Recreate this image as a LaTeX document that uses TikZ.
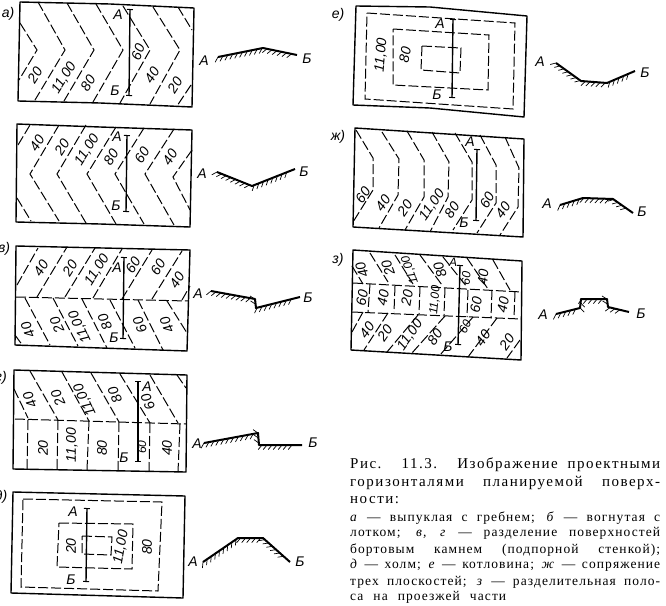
\documentclass[tikz,border=0pt]{standalone}
\usepackage{fontspec}
\setmainfont{Liberation Serif}
\setsansfont{Liberation Sans}
\usetikzlibrary{arrows.meta,decorations.pathreplacing}
\newcommand{\Cote}[4]{\node[cote,rotate=#3] (cote#1-#2) at (#1,#2) {#4}}
\newcommand{\Lettre}[3]{\node[lettre] (lettre#1-#2) at (#1,#2) {#3}}
\newcommand{\Ligne}[3]{\node[#1,anchor=west] (ligne#2) at (350,#2) {\makebox[310pt][s]{#3}}}
\newcommand{\Petit}[1]{{\fontsize{12}{12}\selectfont #1}}
\tikzset{
	cadre/.style={line width=1.4pt,line join=round},
	horiz/.style={line width=1pt,dash pattern=on 10pt off 3pt},
	coupe/.style={line width=1.4pt,{Bar[width=6pt,line width=1pt]}-{Bar[width=6pt,line width=1pt]}},
	cote/.style={font=\sffamily\itshape\fontsize{14}{14}\selectfont,inner sep=0pt},
	lettre/.style={font=\sffamily\itshape\fontsize{14}{14}\selectfont,inner sep=0pt},
	profil/.style={line width=2pt,line join=round,
		postaction={draw,line width=0.7pt,decorate,
			decoration={border,segment length=5pt,amplitude=6pt,angle=-130}}},
	titre/.style={font=\addfontfeature{LetterSpace=10}\fontsize{15}{17}\selectfont,inner sep=0pt},
	legende/.style={font=\addfontfeature{LetterSpace=8}\fontsize{13.5}{15}\selectfont,inner sep=0pt},
}
\begin{document}
\begin{tikzpicture}[x=1pt,y=-1pt]
	\useasboundingbox (0,0) rectangle (666,605);
	
	%Figure a
	\draw[cadre] (20,2) -- (110,4) -- (194,8) -- (192,107) -- (100,103) -- (18,101) -- cycle;
	\draw[horiz] (20,23) -- (37,50) -- (19,80);
	\foreach \x/\yt/\yb in {65/2/100,94/3/101,123/4/102,150/6/103,180/7/104}{
		\draw[horiz] (\x-27,\yt) -- (\x,50) -- (\x-30,\yb);
	}
	\draw[horiz] (178,7) -- (192,30);
	\draw[horiz] (191,85) -- (177,106);
	\draw[coupe] (130,9) -- (129,96);
	\Cote{35}{75}{58}{20};
	\Cote{64}{78}{58}{11,00};
	\Cote{88}{83}{58}{80};
	\Cote{138}{52}{68}{60};
	\Cote{152}{75}{58}{40};
	\Cote{175}{85}{58}{20};
	\Lettre{118}{15}{А};
	\Lettre{115}{91}{Б};
	\Lettre{8}{14}{а)};
	\Lettre{204}{61}{А};
	\Lettre{307}{59}{Б};
	\draw[profil] (218,57) -- (263,48) -- (297,55);
	
	%Figure b
	\draw[cadre] (17,124) -- (100,127) -- (192,130) -- (190,227) -- (100,224) -- (16,222) -- cycle;
	\draw[horiz] (18,145) -- (30,125);
	\draw[horiz] (17,198) -- (31,221);
	\foreach \x/\yt/\yb in {30/125/221,57/125/223,87/127/224,115/128/224,145/129/225}{
		\draw[horiz] (\x+29,\yt) -- (\x,174) -- (\x+29,\yb);
	}
	\draw[horiz] (192,150) -- (173,177) -- (190,210);
	\draw[coupe] (127,135) -- (126,212);
	\Cote{37}{143}{58}{40};
	\Cote{62}{147}{58}{20};
	\Cote{87}{150}{58}{11,00};
	\Cote{111}{157}{58}{80};
	\Cote{142}{155}{58}{60};
	\Cote{170}{157}{58}{40};
	\Lettre{117}{137}{А};
	\Lettre{116}{206}{Б};
	\Lettre{202}{174}{А};
	\Lettre{304}{172}{Б};
	\draw[profil] (217,172) -- (252,186) -- (295,169);
	
	%Figure v
	\draw[cadre] (16,246) -- (190,250) -- (187,351) -- (15,345) -- cycle;
	\draw[horiz] (16,297) -- (188,301);
	\foreach \xa/\ya/\xb/\yb in {17/285/38/248,37/297/67/247,65/297/95/248,93/298/122/249,122/299/152/250,152/299/182/251,182/300/190/286}{
		\draw[horiz] (\xa,\ya) -- (\xb,\yb);
	}
	\foreach \xa/\ya/\xb/\yb in {15/335/23/346,25/298/50/345,53/298/78/346,82/299/107/348,110/300/135/348,138/300/163/350,167/301/187/333}{
		\draw[horiz] (\xa,\ya) -- (\xb,\yb);
	}
	\draw[coupe] (124,257) -- (123,339);
	\Cote{41}{268}{58}{40};
	\Cote{70}{268}{58}{20};
	\Cote{97}{270}{58}{11,00};
	\Cote{133}{265}{58}{60};
	\Cote{158}{267}{58}{60};
	\Cote{177}{280}{58}{40};
	\Cote{28}{330}{115}{40};
	\Cote{57}{325}{115}{20};
	\Cote{80}{327}{115}{11,00};
	\Cote{105}{322}{115}{80};
	\Cote{140}{325}{115}{60};
	\Cote{167}{325}{115}{40};
	\Lettre{117}{268}{А};
	\Lettre{114}{338}{Б};
	\Lettre{4}{249}{в)};
	\Lettre{198}{294}{А};
	\Lettre{308}{298}{Б};
	\draw[profil] (211,291) -- (255,299) -- (256,308) -- (300,297);
	
	%Figure g
	\draw[cadre] (14,370) -- (187,375) -- (186,472) -- (13,469) -- cycle;
	\draw[horiz] (15,419) -- (186,424);
	\foreach \xa/\ya/\xb/\yb in {14/389/28/418,30/371/58/420,62/372/89/421,91/373/119/422,120/374/150/423,150/375/178/423,177/375/186/388}{
		\draw[horiz] (\xa,\ya) -- (\xb,\yb);
	}
	\foreach \xa/\ya/\xb/\yb in {28/420/27/469,58/420/57/469,89/421/87/470,119/422/118/470,150/423/149/471,180/424/178/472}{
		\draw[horiz] (\xa,\ya) -- (\xb,\yb);
	}
	\draw[coupe] (138,381) -- (138,462);
	\Cote{30}{400}{115}{40};
	\Cote{58}{398}{115}{20};
	\Cote{85}{400}{115}{11,00};
	\Cote{115}{395}{115}{80};
	\Cote{148}{402}{115}{60};
	\Cote{43}{448}{90}{20};
	\Cote{72}{445}{90}{11,00};
	\Cote{102}{448}{90}{80};
	\Cote{142}{447}{90}{\Petit{60}};
	\Cote{167}{448}{90}{40};
	\Lettre{147}{387}{А};
	\Lettre{124}{458}{Б};
	\Lettre{1}{378}{г)};
	\Lettre{197}{444}{А};
	\Lettre{313}{443}{Б};
	\draw[profil] (204,443) -- (258,433) -- (259,445) -- (302,445);
	
	%Figure d
	\draw[cadre] (13,492) -- (185,496) -- (183,598) -- (11,593) -- cycle;
	\draw[horiz] (23,499) -- (162,502) -- (158,591) -- (21,587) -- cycle;
	\draw[horiz] (59,523) -- (133,524) -- (132,569) -- (57,567) -- cycle;
	\draw[horiz] (82,536) -- (112,537) -- (111,555) -- (82,554) -- cycle;
	\draw[coupe] (87,508) -- (86,582);
	\Cote{71}{546}{90}{20};
	\Cote{121}{547}{80}{11,00};
	\Cote{147}{547}{90}{80};
	\Lettre{73}{512}{А};
	\Lettre{71}{580}{Б};
	\Lettre{1}{497}{д)};
	\Lettre{193}{562}{А};
	\Lettre{300}{562}{Б};
	\draw[profil] (203,562) -- (238,538) -- (263,538) -- (290,562);
	
	%Figure e
	\draw[cadre] (356,6) -- (430,7) -- (527,16) -- (524,117) -- (430,108) -- (353,105) -- cycle;
	\draw[horiz] (367,13) -- (515,23) -- (513,109) -- (365,99) -- cycle;
	\draw[horiz] (393,29) -- (489,35) -- (488,90) -- (393,85) -- cycle;
	\draw[horiz] (422,46) -- (461,48) -- (460,73) -- (421,70) -- cycle;
	\draw[coupe] (453,19) -- (452,98);
	\Cote{381}{55}{85}{11,00};
	\Cote{405}{55}{80}{80};
	\Lettre{440}{24}{А};
	\Lettre{437}{95}{Б};
	\Lettre{338}{15}{е)};
	\Lettre{540}{62}{А};
	\Lettre{645}{73}{Б};
	\draw[profil] (556,63) -- (581,81) -- (607,83) -- (635,71);
	
	%Figure zh
	\draw[cadre] (355,128) -- (524,139) -- (523,237) -- (353,227) -- cycle;
	\draw[horiz] (356,130) -- (373,158) -- (373,190) -- (353,222);
	\draw[horiz] (382,132) -- (399,159) -- (398,195) -- (379,228);
	\draw[horiz] (407,131) -- (424,160) -- (424,197) -- (405,230);
	\draw[horiz] (432,132) -- (449,162) -- (448,197) -- (430,232);
	\draw[horiz] (455,133) -- (472,162) -- (472,200) -- (453,230);
	\draw[horiz] (480,135) -- (496,165) -- (496,203) -- (477,233);
	\draw[horiz] (505,137) -- (519,168) -- (518,207) -- (500,235);
	\draw[coupe] (477,149) -- (476,221);
	\Cote{363}{195}{55}{60};
	\Cote{383}{203}{55}{40};
	\Cote{405}{208}{55}{20};
	\Cote{432}{205}{55}{11,00};
	\Cote{452}{210}{55}{80};
	\Cote{487}{200}{60}{60};
	\Cote{503}{210}{55}{40};
	\Lettre{470}{142}{А};
	\Lettre{464}{223}{Б};
	\Lettre{338}{137}{ж)};
	\Lettre{547}{204}{А};
	\Lettre{642}{212}{Б};
	\draw[profil] (560,205) -- (583,198) -- (613,199) -- (633,213);
	
	%Figure z
	\draw[cadre] (353,250) -- (522,261) -- (521,360) -- (351,350) -- cycle;
	\draw[horiz] (353,283) -- (522,292);
	\draw[horiz] (352,312) -- (521,319);
	\foreach \xa/\ya/\xb/\yb in {352/266/363/284,370/253/388/282,395/255/413/284,420/255/442/285,443/257/467/287,467/258/488/289,493/260/510/290}{
		\draw[horiz] (\xa,\ya) -- (\xb,\yb);
	}
	\foreach \xa/\ya/\xb/\yb in {370/284/368/312,395/286/394/312,420/287/419/314,445/288/444/315,468/290/467/317,492/290/491/318,515/292/514/318}{
		\draw[horiz] (\xa,\ya) -- (\xb,\yb);
	}
	\foreach \xa/\ya/\xb/\yb in {363/312/352/332,388/313/364/350,418/315/387/352,445/316/412/353,473/317/440/355,497/318/468/357,520/340/507/358}{
		\draw[horiz] (\xa,\ya) -- (\xb,\yb);
	}
	\draw[coupe] (460,265) -- (458,345);
	\Cote{362}{270}{110}{40};
	\Cote{388}{268}{110}{20};
	\Cote{410}{270}{110}{\Petit{11,00}};
	\Cote{440}{270}{110}{80};
	\Cote{466}{278}{85}{\Petit{60}};
	\Cote{483}{277}{85}{40};
	\Cote{362}{298}{80}{60};
	\Cote{383}{298}{80}{40};
	\Cote{407}{298}{80}{20};
	\Cote{435}{300}{85}{\Petit{11,00}};
	\Cote{476}{305}{80}{60};
	\Cote{503}{305}{80}{40};
	\Cote{367}{330}{55}{40};
	\Cote{385}{333}{55}{20};
	\Cote{410}{335}{55}{11,00};
	\Cote{435}{337}{55}{80};
	\Cote{465}{327}{65}{\Petit{60}};
	\Cote{483}{338}{55}{40};
	\Cote{507}{342}{55}{20};
	\Lettre{453}{262}{\Petit{А}};
	\Lettre{448}{347}{Б};
	\Lettre{338}{260}{з)};
	\Lettre{543}{315}{А};
	\Lettre{641}{314}{Б};
	\draw[profil] (556,314) -- (580,308) -- (581,299) -- (607,299) -- (608,307) -- (629,312);
	
	%Legende
	\Ligne{titre}{465}{Рис. 11.3. Изображение проектными};
	\Ligne{titre}{483}{горизонталями планируемой поверх-};
	\node[titre,anchor=west] (ligne500) at (350,500) {ности:};
	\Ligne{legende}{518}{\textit{а} — выпуклая с гребнем; \textit{б} — вогнутая с};
	\Ligne{legende}{533}{лотком; \textit{в, г} — разделение поверхностей};
	\Ligne{legende}{550}{бортовым камнем (подпорной стенкой);};
	\Ligne{legende}{565}{\textit{д} — холм; \textit{е} — котловина; \textit{ж} — сопряжение};
	\Ligne{legende}{582}{трех плоскостей; \textit{з} — разделительная поло-};
	\node[legende,anchor=west] (ligne597) at (350,597) {\makebox[156pt][s]{са на проезжей части}};
\end{tikzpicture}
\end{document}
